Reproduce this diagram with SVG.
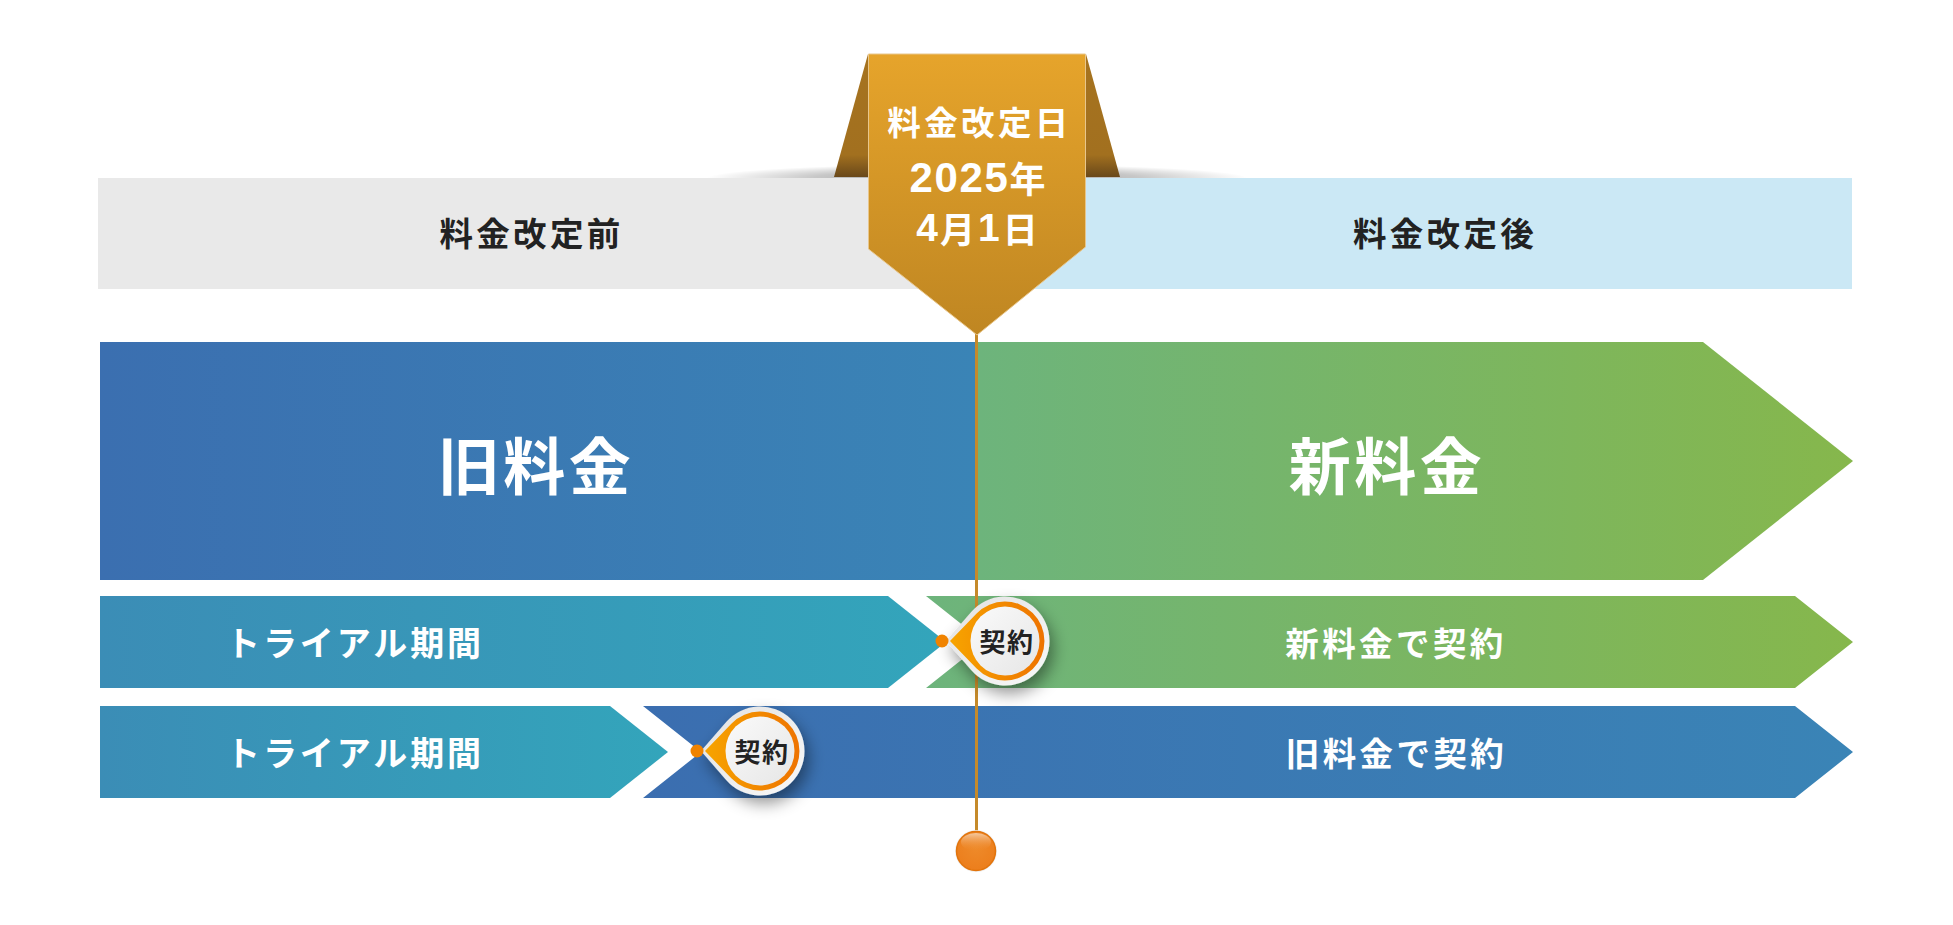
<svg xmlns="http://www.w3.org/2000/svg" width="1953" height="925" viewBox="0 0 1953 925">
<style>
text{font-family:"Noto Sans CJK JP","Noto Sans",sans-serif;font-weight:700;text-anchor:middle;dominant-baseline:central}
.w{fill:#fff}.d{fill:#222}
.band{font-size:33.5px;letter-spacing:3.3px}
.big{font-size:62px;letter-spacing:3.5px}
.row{font-size:34px;letter-spacing:2.9px}
.rowb{font-size:33.5px;letter-spacing:3.4px}
.pt{font-size:26px;letter-spacing:1.5px}
.lat{font-family:"Liberation Sans",sans-serif}
</style>
<defs>
<linearGradient id="gOld" gradientUnits="userSpaceOnUse" x1="100" y1="0" x2="977" y2="0"><stop offset="0" stop-color="#3b6fb0"/><stop offset="1" stop-color="#3a84b6"/></linearGradient>
<linearGradient id="gNew" gradientUnits="userSpaceOnUse" x1="977" y1="0" x2="1852" y2="0"><stop offset="0" stop-color="#6db47c"/><stop offset="1" stop-color="#86b74c"/></linearGradient>
<linearGradient id="gNew2" gradientUnits="userSpaceOnUse" x1="926" y1="0" x2="1852" y2="0"><stop offset="0" stop-color="#6db47c"/><stop offset="1" stop-color="#86b74c"/></linearGradient>
<linearGradient id="gOld2" gradientUnits="userSpaceOnUse" x1="643" y1="0" x2="1852" y2="0"><stop offset="0" stop-color="#3b6eb0"/><stop offset="1" stop-color="#3a84b6"/></linearGradient>
<linearGradient id="gT1" gradientUnits="userSpaceOnUse" x1="100" y1="0" x2="946" y2="0"><stop offset="0" stop-color="#3b8db6"/><stop offset="1" stop-color="#33a5bb"/></linearGradient>
<linearGradient id="gT2" gradientUnits="userSpaceOnUse" x1="100" y1="0" x2="668" y2="0"><stop offset="0" stop-color="#3b8db6"/><stop offset="1" stop-color="#33a5bb"/></linearGradient>
<linearGradient id="gRib" x1="0" y1="0" x2="0" y2="1"><stop offset="0" stop-color="#e6a42b"/><stop offset="1" stop-color="#bf8622"/></linearGradient>
<linearGradient id="gFlap" gradientUnits="userSpaceOnUse" x1="0" y1="54" x2="0" y2="177"><stop offset="0" stop-color="#a6731f"/><stop offset=".82" stop-color="#a2701f"/><stop offset="1" stop-color="#69481a"/></linearGradient>
<linearGradient id="gRing" x1="0" y1="0" x2="1" y2="0"><stop offset="0" stop-color="#f7a400"/><stop offset="1" stop-color="#ee7300"/></linearGradient>
<linearGradient id="gIn" x1="0" y1="0" x2="1" y2="1"><stop offset="0" stop-color="#fafafa"/><stop offset="1" stop-color="#e6e6e6"/></linearGradient>
<linearGradient id="gOut" x1="0" y1="0" x2="1" y2="1"><stop offset="0" stop-color="#e2e2e2"/><stop offset="1" stop-color="#f8f8f8"/></linearGradient>
<radialGradient id="gBall" cx=".5" cy=".4" r=".6"><stop offset="0" stop-color="#ee8a2a"/><stop offset="1" stop-color="#ec7e1c"/></radialGradient>
<linearGradient id="gBallH" x1="0" y1="0" x2="0" y2="1"><stop offset="0" stop-color="#f5c9a0"/><stop offset="1" stop-color="#ef8a2a" stop-opacity="0"/></linearGradient>
<radialGradient id="gSh"><stop offset="0" stop-color="#000" stop-opacity=".4"/><stop offset=".6" stop-color="#000" stop-opacity=".22"/><stop offset="1" stop-color="#000" stop-opacity="0"/></radialGradient>
<filter id="pinShadow" x="-40%" y="-40%" width="190%" height="190%"><feDropShadow dx="4" dy="8" stdDeviation="8" flood-color="#000" flood-opacity=".42"/></filter>
<clipPath id="aboveBand"><rect x="0" y="0" width="1953" height="178"/></clipPath>
<g id="pinShape">
<path d="M-59 0L-33.6 -29.2A44.5 44.5 0 1 1 -33.6 29.2Z" fill="url(#gOut)" filter="url(#pinShadow)"/>
<path d="M-55 0L-28.4 -27.5A39.5 39.5 0 1 1 -28.4 27.5Z" fill="url(#gRing)"/>
<circle cx="0" cy="0" r="34.5" fill="url(#gIn)"/>
</g>
</defs>
<g id="header-before"><rect x="98" y="178" width="880" height="111" fill="#e9e9e9"/><text class="band d" x="531.5" y="231">料金改定前</text></g>
<g id="header-after"><rect x="978" y="178" width="874" height="111" fill="#cbe8f5"/><text class="band d" x="1445" y="231">料金改定後</text></g>
<g id="old-fee"><rect x="100" y="342" width="877" height="238" fill="url(#gOld)"/><text class="big w" x="536" y="463">旧料金</text></g>
<g id="new-fee"><polygon points="977,342 1703,342 1853,461 1703,580 977,580" fill="url(#gNew)"/><text class="big w" x="1387" y="463">新料金</text></g>
<g id="trial-1"><polygon points="100,596 888,596 946,642 888,688 100,688" fill="url(#gT1)"/><text class="row w" x="355" y="641">トライアル期間</text></g>
<g id="contract-new"><polygon points="926,596 1795,596 1853,642 1795,688 926,688 984,642" fill="url(#gNew2)"/><text class="rowb w" x="1396" y="641">新料金で契約</text></g>
<g id="trial-2"><polygon points="100,706 610,706 668,752 610,798 100,798" fill="url(#gT2)"/><text class="row w" x="355" y="751">トライアル期間</text></g>
<g id="contract-old"><polygon points="643,706 1795,706 1853,752 1795,798 643,798 701,752" fill="url(#gOld2)"/><text class="rowb w" x="1396.5" y="751">旧料金で契約</text></g>
<g id="connectors"><line x1="976.5" y1="330" x2="976.5" y2="832" stroke="#c58a2a" stroke-width="3"/></g>
<g id="ribbon">
<g clip-path="url(#aboveBand)"><ellipse cx="977" cy="178" rx="270" ry="14" fill="url(#gSh)"/></g>
<polygon points="868,54 834,177 868,177" fill="url(#gFlap)"/>
<polygon points="1086,54 1120,177 1086,177" fill="url(#gFlap)"/>
<polygon points="868.5,54 1085.5,54 1085.5,247 977,335 868.5,249" fill="url(#gRib)" stroke="#e8c68c" stroke-width="1"/>
<text class="w" x="979.5" y="120.5" font-size="33.5" letter-spacing="3.4">料金改定日</text>
<text class="w" x="977.5" y="176.5" font-size="36"><tspan class="lat" font-size="42" letter-spacing="1.7">2025</tspan><tspan>年</tspan></text>
<text class="w" x="977" y="227" font-size="35"><tspan class="lat" font-size="39" letter-spacing="2">4</tspan><tspan letter-spacing="3">月</tspan><tspan class="lat" font-size="39" letter-spacing="3">1</tspan><tspan>日</tspan></text>
</g>
<g id="pin-1"><use href="#pinShape" x="1005" y="641"/><circle cx="942" cy="641" r="6.5" fill="#f08300"/><text class="pt d" x="1007" y="640">契約</text></g>
<g id="pin-2"><use href="#pinShape" x="760" y="751"/><circle cx="697" cy="751" r="6.5" fill="#f08300"/><text class="pt d" x="762" y="750">契約</text></g>
<g id="end-dot"><circle cx="976" cy="851" r="21" fill="#efefef"/><circle cx="976" cy="851" r="19.5" fill="url(#gBall)" stroke="#e2740c" stroke-width="1.5"/><ellipse cx="976" cy="842" rx="15" ry="9" fill="url(#gBallH)"/></g>
</svg>
